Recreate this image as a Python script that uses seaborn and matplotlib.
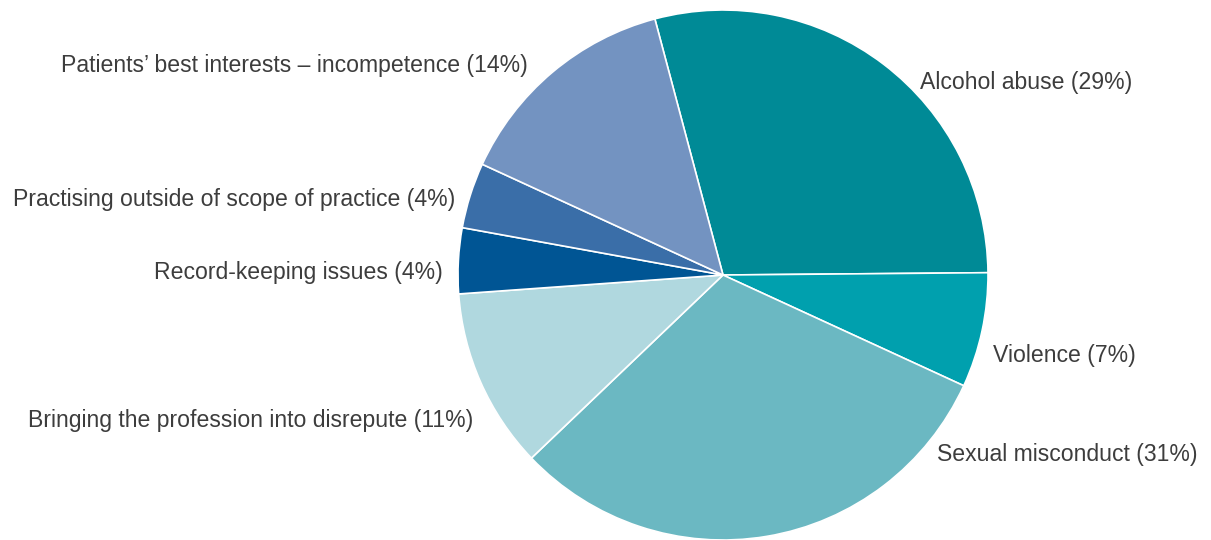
import matplotlib
matplotlib.use("Agg")
import matplotlib.pyplot as plt
import seaborn as sns

# data (clockwise from top)
labels = ["Alcohol abuse", "Violence", "Sexual misconduct",
          "Bringing the profession into disrepute", "Record-keeping issues",
          "Practising outside of scope of practice",
          "Patients\u2019 best interests \u2013 incompetence"]
shares = [29, 7, 31, 11, 4, 4, 14]
colours = ["#008A96", "#00A0AE", "#6BB8C2", "#B0D8DF", "#005594", "#3A6EA8", "#7393C1"]

# label placement in pie units (radius = 1)
label_pos = [(0.743, 0.736), (1.019, -0.294), (0.808, -0.668),
             (-0.943, -0.540), (-1.057, 0.019), (-1.011, 0.294), (-0.736, 0.80)]

sns.set_style("white")
plt.rcParams["font.family"] = ["Liberation Sans", "DejaVu Sans"]

fig = plt.figure(figsize=(12.11, 5.40), dpi=100)
ax = fig.add_axes([0, 0, 1, 1])
wedges, _ = ax.pie(shares, colors=sns.color_palette(colours), startangle=104.9,
                   counterclock=False, radius=1,
                   wedgeprops=dict(edgecolor="white", linewidth=1.2))

for lab, s, (x, y) in zip(labels, shares, label_pos):
    ax.text(x, y, f"{lab} ({s}%)", ha="left" if x > 0 else "right",
            va="center_baseline", fontsize=16.6, color="#3d3d3d")

ax.set_xlim(-723 / 265, (1211 - 723) / 265)
ax.set_ylim(-(540 - 275) / 265, 275 / 265)
ax.set_aspect("equal")
ax.axis("off")

fig.savefig("out.png", dpi=100)
